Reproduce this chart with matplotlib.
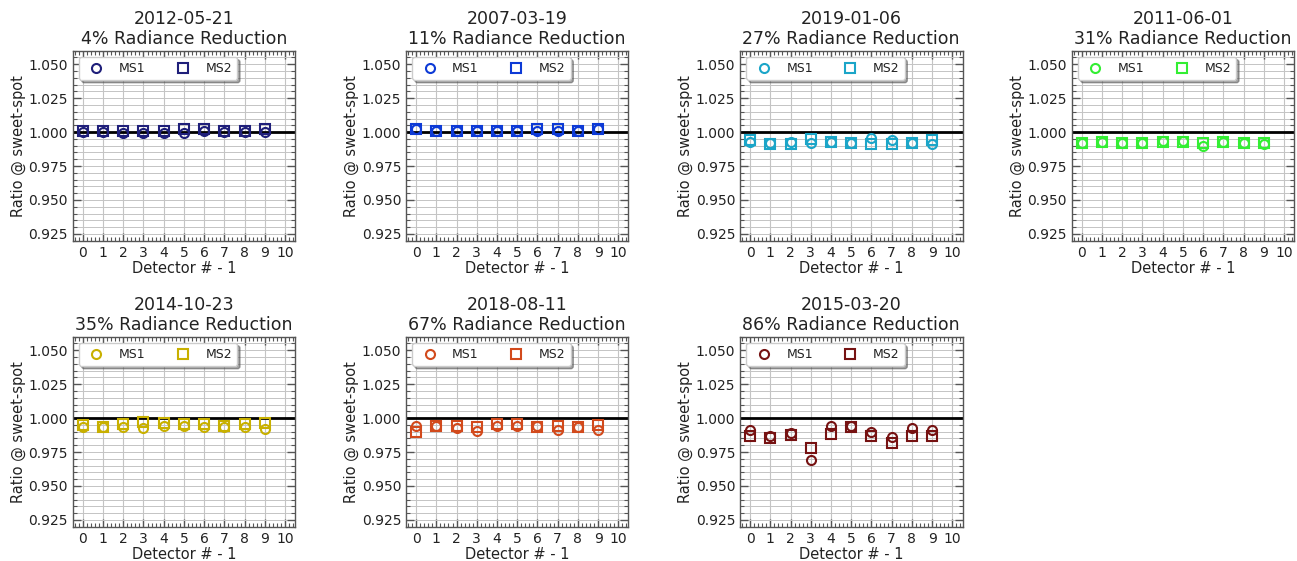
import numpy as np
import matplotlib
matplotlib.use("Agg")
import matplotlib.pyplot as plt
from matplotlib.ticker import MultipleLocator, FormatStrFormatter

# Detector index (detector number minus one)
detectors = np.arange(10)

dates = ["2012-05-21", "2007-03-19", "2019-01-06", "2011-06-01",
         "2014-10-23", "2018-08-11", "2015-03-20"]
reductions = [4, 11, 27, 31, 35, 67, 86]
colors = ["#1f1f7a", "#0d3ad6", "#1ba5c8", "#33ee33",
          "#c8b000", "#d24a1c", "#761212"]

ms1_2012 = [1.0000, 1.0000, 0.9995, 0.9995, 0.9995, 0.9995, 1.0005, 1.0000, 1.0000, 1.0000]
ms2_2012 = [1.0010, 1.0010, 1.0010, 1.0005, 1.0010, 1.0020, 1.0020, 1.0010, 1.0010, 1.0020]

ms1_2007 = [1.0020, 1.0010, 1.0010, 1.0010, 1.0010, 1.0010, 1.0010, 1.0010, 1.0010, 1.0020]
ms2_2007 = [1.0020, 1.0010, 1.0010, 1.0010, 1.0010, 1.0010, 1.0020, 1.0020, 1.0010, 1.0020]

ms1_2019 = [0.9930, 0.9918, 0.9926, 0.9920, 0.9930, 0.9922, 0.9955, 0.9945, 0.9922, 0.9910]
ms2_2019 = [0.9945, 0.9916, 0.9910, 0.9946, 0.9930, 0.9922, 0.9910, 0.9910, 0.9920, 0.9940]

ms1_2011 = [0.9920, 0.9925, 0.9917, 0.9917, 0.9935, 0.9935, 0.9900, 0.9925, 0.9917, 0.9910]
ms2_2011 = [0.9920, 0.9925, 0.9917, 0.9917, 0.9925, 0.9930, 0.9917, 0.9925, 0.9917, 0.9920]

ms1_2014 = [0.9936, 0.9938, 0.9931, 0.9926, 0.9940, 0.9940, 0.9931, 0.9931, 0.9931, 0.9921]
ms2_2014 = [0.9951, 0.9938, 0.9956, 0.9968, 0.9966, 0.9960, 0.9956, 0.9943, 0.9956, 0.9966]

ms1_2018 = [0.9941, 0.9940, 0.9926, 0.9906, 0.9940, 0.9940, 0.9940, 0.9910, 0.9936, 0.9910]
ms2_2018 = [0.9897, 0.9940, 0.9940, 0.9931, 0.9960, 0.9960, 0.9931, 0.9940, 0.9936, 0.9946]

ms1_2015 = [0.9911, 0.9872, 0.9887, 0.9695, 0.9940, 0.9945, 0.9900, 0.9862, 0.9926, 0.9911]
ms2_2015 = [0.9872, 0.9857, 0.9877, 0.9783, 0.9882, 0.9938, 0.9867, 0.9818, 0.9872, 0.9867]

ms1_all = [ms1_2012, ms1_2007, ms1_2019, ms1_2011, ms1_2014, ms1_2018, ms1_2015]
ms2_all = [ms2_2012, ms2_2007, ms2_2019, ms2_2011, ms2_2014, ms2_2018, ms2_2015]

W, H = 1297, 561
fig = plt.figure(figsize=(W / 100, H / 100), dpi=100)

col_left = [72.7, 406.0, 740.0, 1071.7]
row_top = [50.7, 336.7]
ax_w, ax_h = 222.5, 190.0

text_color = "#222222"
spine_color = "#555555"
grid_color = "#c4c4c4"

for k in range(7):
    r, c = divmod(k, 4)
    left = col_left[c] / W
    bottom = (H - row_top[r] - ax_h) / H
    ax = fig.add_axes([left, bottom, ax_w / W, ax_h / H])

    ax.set_xlim(-0.5, 10.5)
    ax.set_ylim(0.92, 1.06)
    ax.xaxis.set_major_locator(MultipleLocator(1))
    ax.xaxis.set_minor_locator(MultipleLocator(0.2))
    ax.yaxis.set_major_locator(MultipleLocator(0.025))
    ax.yaxis.set_minor_locator(MultipleLocator(0.005))
    ax.yaxis.set_major_formatter(FormatStrFormatter("%.3f"))

    ax.grid(True, which="major", axis="x", color=grid_color, lw=0.8)
    ax.grid(True, which="both", axis="y", color=grid_color, lw=0.7)
    ax.set_axisbelow(True)

    ax.axhline(1.0, color="black", lw=2.0, zorder=2)

    ax.plot(detectors, ms1_all[k], ls="none", marker="o", ms=6.5, mfc="none",
            mec=colors[k], mew=1.5, label="MS1", zorder=3)
    ax.plot(detectors, ms2_all[k], ls="none", marker="s", ms=6.5, mfc="none",
            mec=colors[k], mew=1.5, label="MS2", zorder=3)

    ax.tick_params(which="both", direction="in", top=True, right=True,
                   colors=spine_color, labelcolor=text_color, labelsize=10)
    ax.tick_params(which="major", length=6, width=1.0)
    ax.tick_params(which="minor", length=3, width=0.8)
    for s in ax.spines.values():
        s.set_color(spine_color)
        s.set_linewidth(1.0)

    ax.set_title(f"{dates[k]}\n{reductions[k]}% Radiance Reduction",
                 fontsize=12.5, color=text_color, linespacing=1.1, pad=5)
    ax.set_xlabel("Detector # - 1", fontsize=10.5, color=text_color, labelpad=1)
    ax.set_ylabel("Ratio @ sweet-spot", fontsize=10.5, color=text_color, labelpad=2)

    leg = ax.legend(loc="upper left", ncol=2, fontsize=9, fancybox=True,
                    shadow=True, framealpha=1.0, numpoints=1)
    leg.get_frame().set_edgecolor("#cccccc")
    for t in leg.get_texts():
        t.set_color(text_color)

fig.savefig("out.png", dpi=100)
